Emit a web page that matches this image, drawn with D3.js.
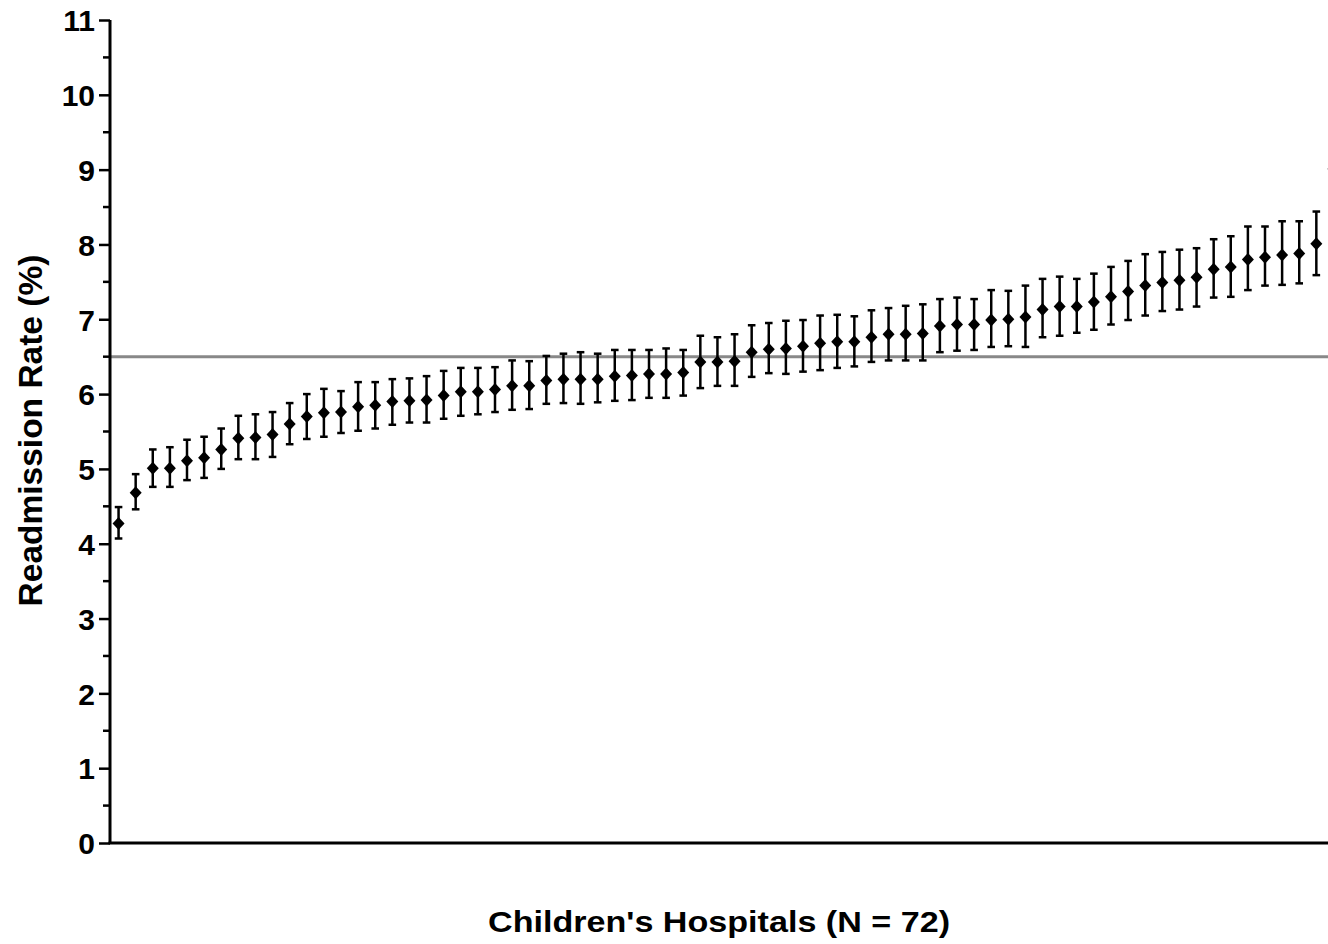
<!DOCTYPE html>
<html>
<head>
<meta charset="utf-8">
<script src="https://cdn.jsdelivr.net/npm/d3@7"></script>
<style>
  html, body { margin: 0; padding: 0; background: #fff; overflow: hidden; }
  svg { display: block; }
  text { font-family: "Liberation Sans", Arial, sans-serif; font-weight: bold; fill: #000; }
</style>
</head>
<body>
<svg id="chart" width="1328" height="944"></svg>
<script>
const hospitals = d3.range(1, 73);
const rate = [4.27,4.68,5.01,5.01,5.11,5.15,5.26,5.41,5.42,5.46,
  5.60,5.70,5.75,5.76,5.83,5.85,5.90,5.91,5.92,5.98,
  6.03,6.03,6.06,6.11,6.11,6.18,6.20,6.20,6.20,6.24,
  6.25,6.27,6.27,6.29,6.43,6.43,6.44,6.56,6.60,6.61,
  6.64,6.68,6.70,6.70,6.76,6.80,6.80,6.81,6.91,6.93,
  6.93,6.99,7.00,7.03,7.13,7.17,7.17,7.23,7.30,7.37,
  7.45,7.49,7.52,7.56,7.67,7.70,7.80,7.83,7.86,7.88,
  8.01,9.01];
const upper = [4.49,4.93,5.26,5.29,5.39,5.43,5.54,5.71,5.73,5.76,
  5.88,6.00,6.07,6.04,6.16,6.16,6.20,6.21,6.24,6.31,
  6.35,6.35,6.36,6.45,6.44,6.51,6.54,6.56,6.54,6.59,
  6.59,6.59,6.61,6.59,6.78,6.76,6.80,6.92,6.95,6.98,
  6.99,7.05,7.06,7.04,7.12,7.15,7.18,7.20,7.27,7.29,
  7.27,7.39,7.38,7.45,7.54,7.57,7.54,7.61,7.70,7.78,
  7.87,7.90,7.93,7.95,8.07,8.11,8.24,8.24,8.31,8.31,
  8.44,9.48];
const lower = [4.07,4.46,4.76,4.76,4.85,4.88,5.00,5.13,5.13,5.16,
  5.33,5.40,5.43,5.48,5.51,5.54,5.59,5.62,5.62,5.67,
  5.71,5.73,5.76,5.79,5.80,5.87,5.88,5.87,5.89,5.91,
  5.92,5.95,5.95,5.98,6.08,6.11,6.11,6.23,6.28,6.27,
  6.30,6.32,6.35,6.37,6.43,6.45,6.45,6.45,6.56,6.58,
  6.59,6.63,6.64,6.63,6.76,6.78,6.82,6.86,6.93,6.99,
  7.05,7.11,7.13,7.17,7.29,7.30,7.39,7.45,7.46,7.48,
  7.59,8.55];
const meanRate = 6.5;
const yTicks = d3.range(0, 12);
const yMinorTicks = d3.range(0.5, 11, 1);
const yTitle = "Readmission Rate (%)";
const xTitle = "Children's Hospitals (N = 72)";

const svg = d3.select("#chart");
const x = d3.scaleLinear().domain([0.5, 72.5]).range([110, 1342]);
const y = d3.scaleLinear().domain([0, 11]).range([843, 20]);

// reference (mean) line
svg.append("line")
  .attr("x1", x(0.5)).attr("x2", x(72.5))
  .attr("y1", y(meanRate)).attr("y2", y(meanRate))
  .attr("stroke", "#888888").attr("stroke-width", 3);

// error bars
const g = svg.append("g");
const capW = 3.8;
hospitals.forEach((h, i) => {
  const cx = x(h);
  g.append("line").attr("x1", cx).attr("x2", cx)
    .attr("y1", y(lower[i])).attr("y2", y(upper[i]))
    .attr("stroke", "#000").attr("stroke-width", 2.5);
  [lower[i], upper[i]].forEach(v => {
    g.append("line").attr("x1", cx - capW).attr("x2", cx + capW)
      .attr("y1", y(v)).attr("y2", y(v))
      .attr("stroke", "#000").attr("stroke-width", 2.5);
  });
});

// diamonds
const dw = 6, dh = 6.5;
g.selectAll("path.pt").data(hospitals).join("path")
  .attr("class", "pt")
  .attr("d", (h, i) => {
    const cx = x(h), cy = y(rate[i]);
    return `M${cx},${cy - dh}L${cx + dw},${cy}L${cx},${cy + dh}L${cx - dw},${cy}Z`;
  })
  .attr("fill", "#000");

// y axis
const yAxis = svg.append("g").attr("transform", `translate(${x(0.5)},0)`)
  .call(d3.axisLeft(y).tickValues(yTicks).tickSize(11).tickPadding(4).tickFormat(d3.format("d")));
yAxis.select(".domain").attr("stroke-width", 3).attr("d", `M0,${y(11)}V${y(0)}`);
yAxis.selectAll(".tick line").attr("stroke-width", 2.5);
yAxis.selectAll(".tick text").attr("dy", "0.36em")
  .style("font-size", "30px")
  .style("font-family", "'Liberation Sans', Arial, sans-serif").style("font-weight", "bold");
// minor ticks
yAxis.selectAll("line.minor").data(yMinorTicks).join("line")
  .attr("class", "minor")
  .attr("x1", -7).attr("x2", 0)
  .attr("y1", d => y(d)).attr("y2", d => y(d))
  .attr("stroke", "#000").attr("stroke-width", 2.5);

// x axis line
svg.append("line")
  .attr("x1", x(0.5) - 1.5).attr("x2", x(72.5))
  .attr("y1", y(0)).attr("y2", y(0))
  .attr("stroke", "#000").attr("stroke-width", 3);

// titles
svg.append("text")
  .attr("transform", `translate(42,430.5) rotate(-90)`)
  .attr("text-anchor", "middle")
  .style("font-size", "33.5px")
  .text(yTitle);
svg.append("text")
  .attr("x", 719).attr("y", 932)
  .attr("text-anchor", "middle")
  .style("font-size", "30px")
  .attr("textLength", 462)
  .attr("lengthAdjust", "spacingAndGlyphs")
  .text(xTitle);
</script>
</body>
</html>
